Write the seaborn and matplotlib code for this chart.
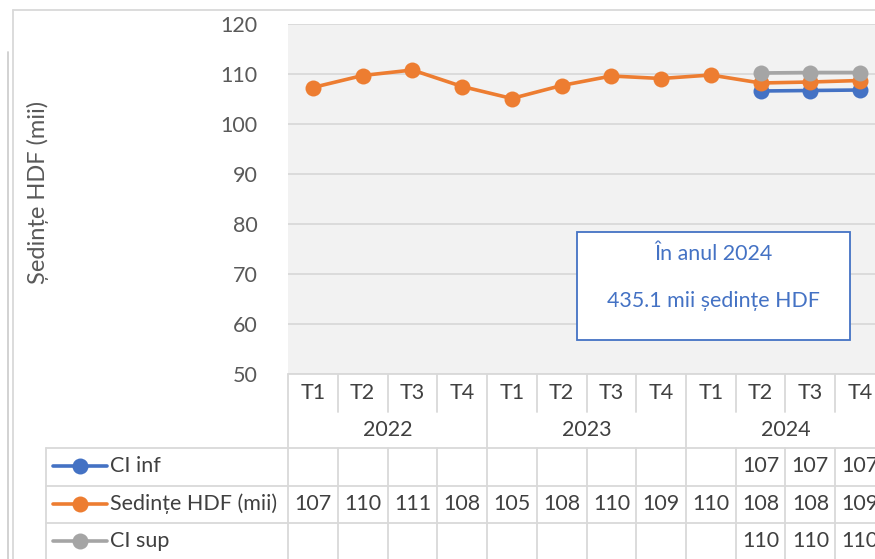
import numpy as np
import pandas as pd
import matplotlib
matplotlib.use("Agg")
import matplotlib.pyplot as plt
import matplotlib.transforms as mtransforms
from matplotlib.lines import Line2D
import seaborn as sns

# data
quarters = ["T1", "T2", "T3", "T4"] * 3
years = ["2022", "2023", "2024"]
sedinte = [107.3, 109.7, 110.8, 107.5, 105.1, 107.7, 109.6, 109.1, 109.8, 108.2, 108.4, 108.7]
ci_inf = [np.nan] * 9 + [106.6, 106.7, 106.8]
ci_sup = [np.nan] * 9 + [110.2, 110.3, 110.3]
series_names = ["CI inf", "Sedințe HDF (mii)", "CI sup"]
series_colors = ["#4472c4", "#ed7d31", "#a5a5a5"]

sns.set_style("white")
plt.rcParams["font.family"] = ["Lato", "DejaVu Sans"]

W, H = 875, 559
fig = plt.figure(figsize=(W / 100, H / 100), dpi=100)

# plot area: x 288 -> 885 px (cut by the image), y 24 -> 374 px
col_w = 49.75
x0 = 288
ax = fig.add_axes([x0 / W, 1 - 374 / H, 12 * col_w / W, 350 / H])
ax.set_facecolor("#f2f2f2")

df = pd.DataFrame({"pos": range(12), "CI inf": ci_inf,
                   "Sedințe HDF (mii)": sedinte, "CI sup": ci_sup})
for name, col in zip(series_names, series_colors):
    sns.lineplot(data=df, x="pos", y=name, ax=ax, color=col, linewidth=2.6,
                 marker="o", markersize=11.5, markeredgewidth=0, clip_on=False)

ax.set_xlim(-0.5, 11.5)
ax.set_ylim(50, 120)
ax.set_yticks(range(50, 121, 10))
ax.set_xticks([])
ax.set_xlabel("")
ax.set_ylabel("")
ax.grid(axis="y", color="#d9d9d9", linewidth=1.3)
ax.set_axisbelow(True)
for s in ax.spines.values():
    s.set_visible(False)
ax.tick_params(axis="y", length=0, pad=22, labelsize=15.5, labelcolor="#595959")

fig.text(38 / W, 1 - 192 / H, "Ședințe HDF (mii)", rotation=90, ha="center",
         va="center", fontsize=17, color="#595959")

# annotation box
box = plt.Rectangle((577 / W, 1 - 340 / H), 273 / W, 108 / H, transform=fig.transFigure,
                    fc="white", ec="#4472c4", lw=1.3, zorder=3)
fig.add_artist(box)
fig.text(713 / W, 1 - 254 / H, "În anul 2024", ha="center", va="center",
         fontsize=15.4, color="#4472c4", zorder=4)
fig.text(713 / W, 1 - 301 / H, "435.1 mii ședințe HDF", ha="center", va="center",
         fontsize=15.4, color="#4472c4", zorder=4)

# data table below the plot (x in data units, y in pixels from top)
tr = mtransforms.blended_transform_factory(ax.transData, fig.transFigure)
grid_c = "#d9d9d9"
txt_c = "#404040"


def fy(py):
    return 1 - py / H


def hline(xa, xb, py, trans):
    fig.add_artist(Line2D([xa, xb], [fy(py), fy(py)], transform=trans, color=grid_c, lw=1.3))


def vline(x, ya, yb, trans):
    fig.add_artist(Line2D([x, x], [fy(ya), fy(yb)], transform=trans, color=grid_c, lw=1.3))


rows_y = [448, 486, 523]
hline(-0.5, 12, 374, tr)
for py in rows_y:
    hline(46 / W, 1.1, py, fig.transFigure)
vline(46 / W, 448, 562, fig.transFigure)

for k in range(13):
    xb = k - 0.5
    if k % 4 == 0:
        vline(xb, 374, 562, tr)
    else:
        vline(xb, 374, 412, tr)
        vline(xb, 448, 562, tr)

for i, q in enumerate(quarters):
    fig.text(i, fy(393), q, transform=tr, ha="center", va="center", fontsize=15.5, color=txt_c)
for j, yr in enumerate(years):
    fig.text(4 * j + 1.5, fy(430), yr, transform=tr, ha="center", va="center",
             fontsize=15.5, color=txt_c)

row_centers = [466, 504, 541]
for (name, col), py in zip(zip(series_names, series_colors), row_centers):
    vals = df[name].to_numpy()
    for i, v in enumerate(vals):
        if not np.isnan(v):
            fig.text(i, fy(py), f"{v:.0f}", transform=tr, ha="center", va="center",
                     fontsize=15.5, color=txt_c)
    fig.add_artist(Line2D([53 / W, 107 / W], [fy(py), fy(py)], transform=fig.transFigure,
                          color=col, lw=2.6))
    fig.add_artist(Line2D([80 / W], [fy(py)], transform=fig.transFigure, color=col,
                          marker="o", markersize=11.5, markeredgewidth=0, lw=0))
    fig.text(110 / W, fy(py), name, ha="left", va="center", fontsize=15.5, color=txt_c)

# outer chart frame lines
fig.add_artist(Line2D([13 / W, 1.0], [fy(10), fy(10)], transform=fig.transFigure, color=grid_c, lw=1.3))
fig.add_artist(Line2D([13 / W, 13 / W], [fy(10), 0], transform=fig.transFigure, color=grid_c, lw=1.3))
fig.add_artist(Line2D([8 / W, 8 / W], [fy(52), 0], transform=fig.transFigure, color="#cfcfcf", lw=1.3))

fig.savefig("out.png", dpi=100)
